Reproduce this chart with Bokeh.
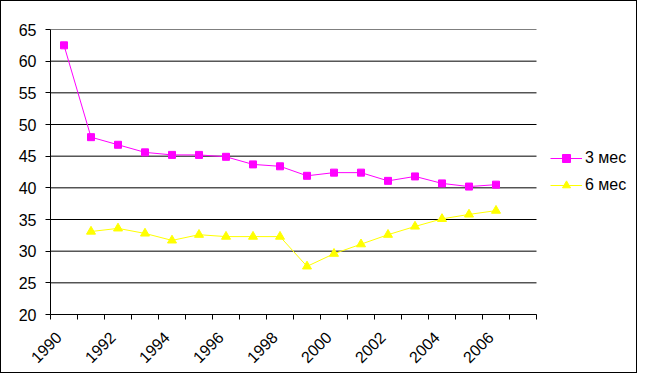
from bokeh.plotting import figure
from bokeh.models import Range1d, FixedTicker, CustomJSTickFormatter, Legend, LegendItem
from bokeh.embed import file_html
from bokeh.resources import INLINE

# data
years_3m = list(range(1990, 2007))
vals_3m = [62.5, 48.0, 46.8, 45.6, 45.2, 45.2, 44.9, 43.7, 43.4, 41.9, 42.4, 42.4, 41.1, 41.8, 40.7, 40.2, 40.5]
years_6m = list(range(1991, 2007))
vals_6m = [33.1, 33.6, 32.8, 31.7, 32.6, 32.3, 32.3, 32.3, 27.6, 29.6, 31.1, 32.6, 33.9, 35.1, 35.8, 36.4]
all_years = list(range(1990, 2008))
label_years = [y for y in all_years if (y - 1990) % 2 == 0 and y <= 2006]
y_ticks = list(range(20, 70, 5))
series_names = ["3 мес", "6 мес"]

FONT = "Liberation Sans"
FS = "16px"
W, H = 637, 373
LEFT, TOP, BOTTOM = 49, 28, 60
PLOT_W = 486  # width of the category area in px
n_cat = len(all_years)
frame_w = W - LEFT

p = figure(width=W, height=H, output_backend="svg", toolbar_location=None,
           x_range=Range1d(0, n_cat * frame_w / PLOT_W), y_range=Range1d(20, 65),
           min_border_left=LEFT, min_border_right=0, min_border_top=TOP, min_border_bottom=BOTTOM)
p.outline_line_color = None
p.background_fill_color = "white"
p.border_fill_color = "white"
p.styles = {"border": "1px solid black", "box-sizing": "border-box"}

def xpos(years):
    return [y - all_years[0] + 0.5 for y in years]

# horizontal gridlines limited to the category area
p.ygrid.grid_line_color = None
p.xgrid.grid_line_color = None
p.segment(x0=[0] * len(y_ticks), x1=[n_cat] * len(y_ticks), y0=y_ticks, y1=y_ticks,
          line_color="black", line_width=1)

# y axis
p.yaxis.ticker = FixedTicker(ticks=y_ticks)
p.yaxis.axis_line_color = "black"
p.yaxis.major_tick_line_color = "black"
p.yaxis.major_tick_out = 5
p.yaxis.major_tick_in = 0
p.yaxis.minor_tick_line_color = None
p.yaxis.major_label_text_font = FONT
p.yaxis.major_label_text_font_size = FS
p.yaxis.major_label_text_color = "black"
p.yaxis.major_label_standoff = 9

# x axis
label_ticks = [x - 0.2 for x in xpos(label_years)]
p.xaxis.bounds = (0, n_cat)
p.xaxis.ticker = FixedTicker(ticks=label_ticks, minor_ticks=list(range(n_cat + 1)))
p.xaxis.formatter = CustomJSTickFormatter(code="return String(Math.floor(tick) + 1990);")
p.xaxis.axis_line_color = "black"
p.xaxis.major_tick_line_color = None
p.xaxis.major_tick_out = 0
p.xaxis.major_tick_in = 0
p.xaxis.minor_tick_line_color = "black"
p.xaxis.minor_tick_out = 5
p.xaxis.minor_tick_in = 0
p.xaxis.major_label_orientation = 0.785398
p.xaxis.major_label_text_font = FONT
p.xaxis.major_label_text_font_size = FS
p.xaxis.major_label_text_color = "black"
p.xaxis.major_label_standoff = 15

l1 = p.line(xpos(years_3m), vals_3m, line_color="#FF00FF", line_width=1)
s1 = p.scatter(xpos(years_3m), vals_3m, marker="square", size=7, fill_color="#FF00FF", line_color="#FF00FF")
l2 = p.line(xpos(years_6m), vals_6m, line_color="#FFFF00", line_width=1)
s2 = p.scatter(xpos(years_6m), vals_6m, marker="triangle", size=9, fill_color="#FFFF00", line_color="#FFFF00")

legend = Legend(items=[LegendItem(label=series_names[0], renderers=[l1, s1]),
                       LegendItem(label=series_names[1], renderers=[l2, s2])],
                location=(500, 119), orientation="vertical")
legend.border_line_color = None
legend.background_fill_alpha = 0
legend.label_text_font = FONT
legend.label_text_font_size = FS
legend.label_text_color = "black"
legend.glyph_width = 32
legend.glyph_height = 20
legend.label_standoff = 3
legend.spacing = 7
legend.padding = 2
legend.margin = 0
p.add_layout(legend, "center")

open("out.html", "w").write(file_html(p, INLINE))
